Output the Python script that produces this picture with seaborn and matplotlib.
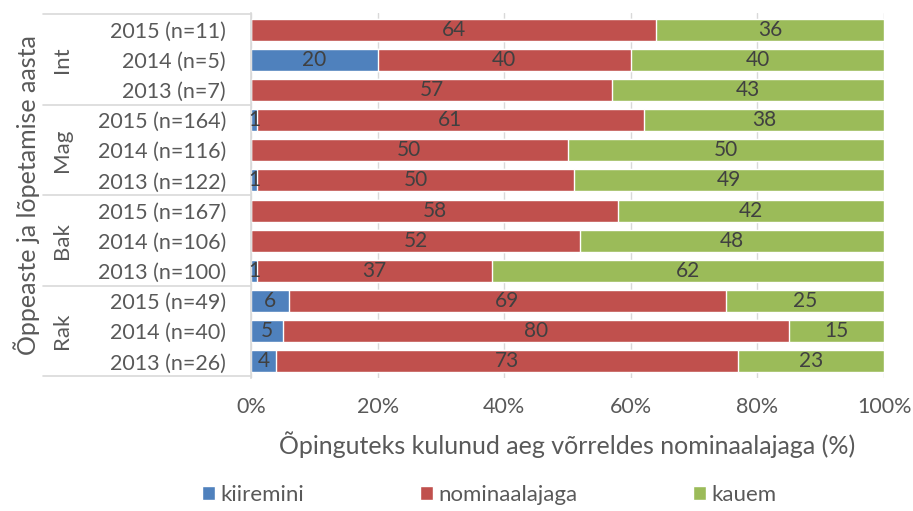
import numpy as np
import pandas as pd
import matplotlib
matplotlib.use('Agg')
import matplotlib.pyplot as plt
import seaborn as sns
from matplotlib.patches import Patch
import matplotlib.transforms as mtransforms

# data, top row first
groups = ['Int', 'Mag', 'Bak', 'Rak']
rows = ['2015 (n=11)', '2014 (n=5)', '2013 (n=7)',
        '2015 (n=164)', '2014 (n=116)', '2013 (n=122)',
        '2015 (n=167)', '2014 (n=106)', '2013 (n=100)',
        '2015 (n=49)', '2014 (n=40)', '2013 (n=26)']
kiiremini = [0, 20, 0, 1, 0, 1, 0, 0, 1, 6, 5, 4]
nominaalajaga = [64, 40, 57, 61, 50, 50, 58, 52, 37, 69, 80, 73]
kauem = [36, 40, 43, 38, 50, 49, 42, 48, 62, 25, 15, 23]
series = ['kiiremini', 'nominaalajaga', 'kauem']
colors = ['#4F81BD', '#C0504D', '#9BBB59']
xticks = [0, 20, 40, 60, 80, 100]

sns.set_style('white')
plt.rcParams['font.family'] = ['Lato', 'DejaVu Sans']
txt = '#595959'
grid_c = '#D9D9D9'

df = pd.DataFrame({'row': rows, 'kiiremini': kiiremini,
                   'nominaalajaga': nominaalajaga, 'kauem': kauem})
df['c1'] = df['kiiremini']
df['c2'] = df['c1'] + df['nominaalajaga']
df['c3'] = df['c2'] + df['kauem']

fig = plt.figure(figsize=(9.13, 5.11), dpi=100)
ax = fig.add_axes([0.275, 0.2603, 0.6933, 0.7143])
ax.set_axisbelow(True)
ax.xaxis.grid(True, color=grid_c, lw=1.0)

# stacked by overdrawing cumulative sums
for col, c in zip(['c3', 'c2', 'c1'], colors[::-1]):
    sns.barplot(data=df, x=col, y='row', order=rows, color=c,
                width=0.73, saturation=1, ax=ax, orient='h')

# segment labels
for i, r in df.iterrows():
    left = 0
    for s in series:
        v = r[s]
        if v > 0:
            ax.text(left + v / 2, i, f'{v}', ha='center', va='center',
                    fontsize=15, color='#404040')
        left += v

ax.set_xlim(0, 100)
ax.set_ylim(11.5 + 0.05, -0.5 - 0.05)
ax.set_xticks(xticks)
ax.set_xticklabels([f'{t}%' for t in xticks], fontsize=15.5, color=txt)
ax.tick_params(axis='x', length=0, pad=14)
ax.tick_params(axis='y', length=0, pad=18, labelsize=15.5, labelcolor=txt)
ax.set_ylabel('')
ax.set_xlabel('Õpinguteks kulunud aeg võrreldes nominaalajaga (%)',
              fontsize=18, color=txt, labelpad=10)
for sp in ['top', 'right', 'bottom']:
    ax.spines[sp].set_visible(False)
ax.spines['left'].set_color(grid_c)
ax.spines['left'].set_linewidth(1.2)

# group separators and labels
tr = mtransforms.blended_transform_factory(ax.transAxes, ax.transData)
for k in range(len(groups) + 1):
    y = k * 3 - 0.5
    ax.plot([-0.329, 0], [y, y], transform=tr, color=grid_c,
            lw=1.2, clip_on=False)
for k, g in enumerate(groups):
    ax.text(-0.298, k * 3 + 1, g, transform=tr, rotation=90,
            ha='center', va='center', fontsize=16, color=txt)

fig.text(0.029, 0.618, 'Õppeaste ja lõpetamise aasta', rotation=90,
         ha='center', va='center', fontsize=18, color=txt)

handles = [Patch(facecolor=c, label=s) for s, c in zip(series, colors)]
fig.legend(handles=handles, loc='center', bbox_to_anchor=(0.536, 0.031),
           ncol=3, frameon=False, fontsize=16, handlelength=0.6,
           handleheight=0.6, handletextpad=0.23, columnspacing=5.2,
           labelcolor=txt)

fig.savefig('out.png', dpi=100)
